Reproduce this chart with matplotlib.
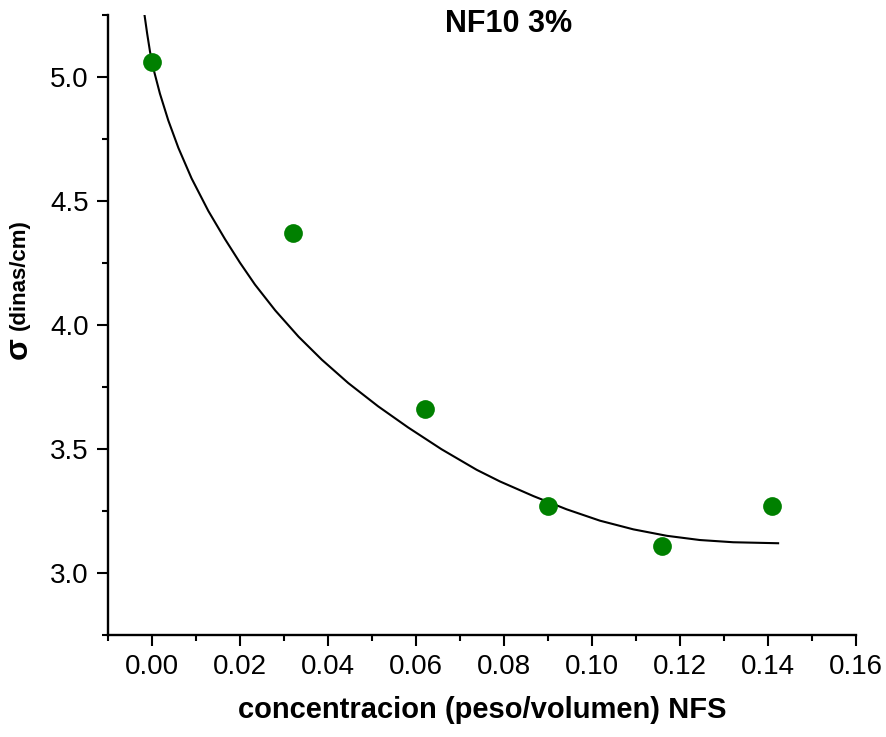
import numpy as np
import matplotlib
matplotlib.use("Agg")
from matplotlib import pyplot as plt
from matplotlib.ticker import MultipleLocator, FormatStrFormatter

plt.rcParams['font.family'] = ['Liberation Sans', 'DejaVu Sans']

## measured points
conc  = [0.000, 0.032, 0.062, 0.090, 0.116, 0.141]
sigma = [5.06, 4.37, 3.66, 3.27, 3.11, 3.27]

## fitted curve
fit_x = [-0.0017, -0.0011, -0.00045, 0.0003, 0.0018, 0.0037, 0.0060, 0.0090,
         0.0128, 0.0166, 0.0200, 0.0234, 0.0280, 0.0333, 0.0386, 0.0446,
         0.0514, 0.0582, 0.0658, 0.0738, 0.0791, 0.0867, 0.0942, 0.1018,
         0.1094, 0.1170, 0.1245, 0.1321, 0.1423]
fit_y = [5.250, 5.175, 5.102, 5.035, 4.933, 4.825, 4.714, 4.591,
         4.460, 4.346, 4.251, 4.163, 4.059, 3.953, 3.860, 3.766,
         3.672, 3.587, 3.499, 3.416, 3.369, 3.310, 3.257, 3.211,
         3.176, 3.150, 3.133, 3.124, 3.120]

W, H = 886, 737
fig = plt.figure(figsize=(W/100, H/100), dpi=100)
ax  = fig.add_axes([108/W, 1-635/H, (856-108)/W, (635-15)/H])

ax.plot(fit_x, fit_y, color='black', lw=1.5, zorder=2)
ax.plot(conc, sigma, 'o', color='#008000', ms=13.5, mec='none', zorder=3)

ax.set_xlim(-0.01, 0.16)
ax.set_ylim(2.75, 5.25)

ax.spines['top'].set_visible(False)
ax.spines['right'].set_visible(False)
for s in ('left', 'bottom'):
    ax.spines[s].set_linewidth(1.7)

ax.xaxis.set_major_locator(MultipleLocator(0.02))
ax.xaxis.set_minor_locator(MultipleLocator(0.01))
ax.yaxis.set_major_locator(MultipleLocator(0.5))
ax.yaxis.set_minor_locator(MultipleLocator(0.25))
ax.xaxis.set_major_formatter(FormatStrFormatter('%.2f'))
ax.yaxis.set_major_formatter(FormatStrFormatter('%.1f'))

ax.tick_params(which='major', direction='out', length=8, width=1.5,
               labelsize=20, pad=6)
ax.tick_params(which='minor', direction='out', length=4, width=1.5)

fig.text(509/W, 1-32/H, 'NF10 3%', fontsize=22, fontweight='bold',
         ha='center', va='baseline')
fig.text(482/W, 1-718/H, 'concentracion (peso/volumen) NFS', fontsize=21,
         fontweight='bold', ha='center', va='baseline')
fig.text(19/W, 1-348/H, 'σ', fontsize=23, fontweight='bold',
         rotation=90, ha='center', va='center')
fig.text(19/W, 1-275/H, '(dinas/cm)', fontsize=16, fontweight='bold',
         rotation=90, ha='center', va='center')

fig.savefig('out.png', dpi=100)
